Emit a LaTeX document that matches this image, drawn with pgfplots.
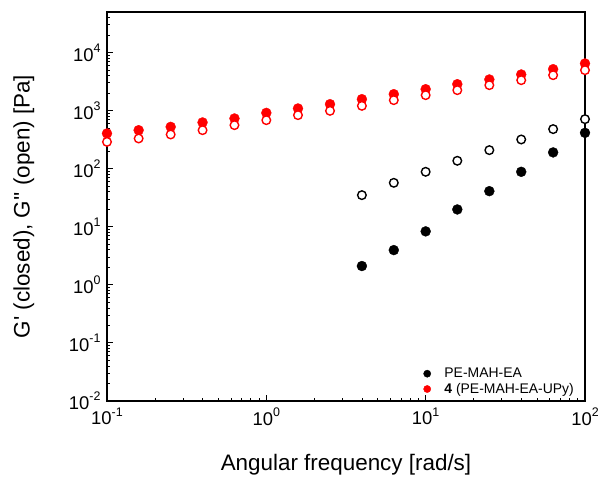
\documentclass[border=0pt]{standalone}
\usepackage{fontspec}
\setmainfont{Liberation Sans}
\usepackage{pgfplots}
\pgfplotsset{compat=1.18}
\definecolor{pred}{RGB}{255,0,0}
\newcommand{\tl}[1]{10\raisebox{0.48em}{\fontsize{12.5}{12}\selectfont #1}}
\begin{document}
\begin{tikzpicture}
\begin{axis}[
  scale only axis,
  width=478bp, height=389bp,
  xmode=log, ymode=log,
  log basis x=10, log basis y=10,
  xmin=0.1, xmax=100,
  ymin=0.01, ymax=50000,
  xtick={0.1,1,10,100},
  ytick={0.01,0.1,1,10,100,1000,10000},
  minor xtick={0.2,0.3,0.4,0.5,0.6,0.7,0.8,0.9,2,3,4,5,6,7,8,9,20,30,40,50,60,70,80,90},
  minor ytick={0.02,0.03,0.04,0.05,0.06,0.07,0.08,0.09,0.2,0.3,0.4,0.5,0.6,0.7,0.8,0.9,2,3,4,5,6,7,8,9,20,30,40,50,60,70,80,90,200,300,400,500,600,700,800,900,2000,3000,4000,5000,6000,7000,8000,9000,20000,30000,40000},
  xticklabels={\tl{-1},\tl{0},\tl{1},\tl{2}},
  yticklabels={\tl{-2},\tl{-1},\tl{0},\tl{1},\tl{2},\tl{3},\tl{4}},
  ticklabel style={font=\fontsize{18.5}{20}\selectfont},
  xticklabel style={yshift=-3bp},
  yticklabel style={xshift=-3bp},
  tick align=inside,
  xtick pos=bottom, ytick pos=left,
  major tick length=6bp, minor tick length=3.5bp,
  every tick/.style={black, line width=0.9bp},
  axis line style={line width=1.2bp},
  xlabel={Angular frequency [rad/s]},
  ylabel={G\textquotesingle{} (closed), G\textquotesingle\textquotesingle{} (open) [Pa]},
  label style={font=\fontsize{22.5}{26}\selectfont},
  xlabel style={at={(axis description cs:0.5,-0.165)}, anchor=center},
  ylabel style={at={(axis description cs:-0.174,0.5)}, anchor=center},
  legend style={draw=none, fill=none, at={(axis description cs:1,0)}, anchor=south east,
    xshift=-6bp, yshift=2bp, font=\fontsize{14}{16}\selectfont, row sep=0bp,
    legend cell align=left},
  clip=false,
]
% filled black G'
\addplot[only marks, mark=*, mark size=5bp, color=black, mark options={line width=0.3bp},
  legend image code/.code={\fill[black] (0cm,0cm) circle (3.6bp); \path (15bp,0bp);}]
  coordinates {
  (3.98,2.11) (6.31,3.97) (10,8.34) (15.8,19.9) (25.1,41.1) (39.8,88.5) (63.1,191) (100,415)
  };
\addlegendentry{PE-MAH-EA}
% filled red G'
\addplot[only marks, mark=*, mark size=5bp, color=pred, mark options={line width=0.3bp},
  legend image code/.code={\fill[pred] (0cm,0cm) circle (3.6bp); \path (15bp,0bp);}]
  coordinates {
  (0.1,405) (0.158,461) (0.251,526) (0.398,627) (0.631,734) (1,916) (1.58,1091) (2.51,1294)
  (3.98,1578) (6.31,1923) (10,2344) (15.8,2858) (25.1,3443) (39.8,4197) (63.1,5180) (100,6490)
  };
\addlegendentry{\textbf{4} (PE-MAH-EA-UPy)}
% open black G''
\addplot[forget plot, only marks, mark=*, mark size=4.3bp, color=black, mark options={fill=white, line width=1.4bp}]
  coordinates {
  (3.98,35.1) (6.31,57.2) (10,88.5) (15.8,137) (25.1,209) (39.8,319) (63.1,481) (100,714)
  };
% open red G''
\addplot[forget plot, only marks, mark=*, mark size=4.3bp, color=pred, mark options={fill=white, line width=1.4bp}]
  coordinates {
  (0.1,290) (0.158,332) (0.251,389) (0.398,461) (0.631,563) (1,686) (1.58,837) (2.51,993)
  (3.98,1210) (6.31,1517) (10,1848) (15.8,2254) (25.1,2748) (39.8,3350) (63.1,4085) (100,4980)
  };
\end{axis}
\pgfresetboundingbox
\useasboundingbox ([shift={(-107bp,-76bp)}]current axis.south west) rectangle ([shift={(13bp,12bp)}]current axis.north east);
\end{tikzpicture}
\end{document}
